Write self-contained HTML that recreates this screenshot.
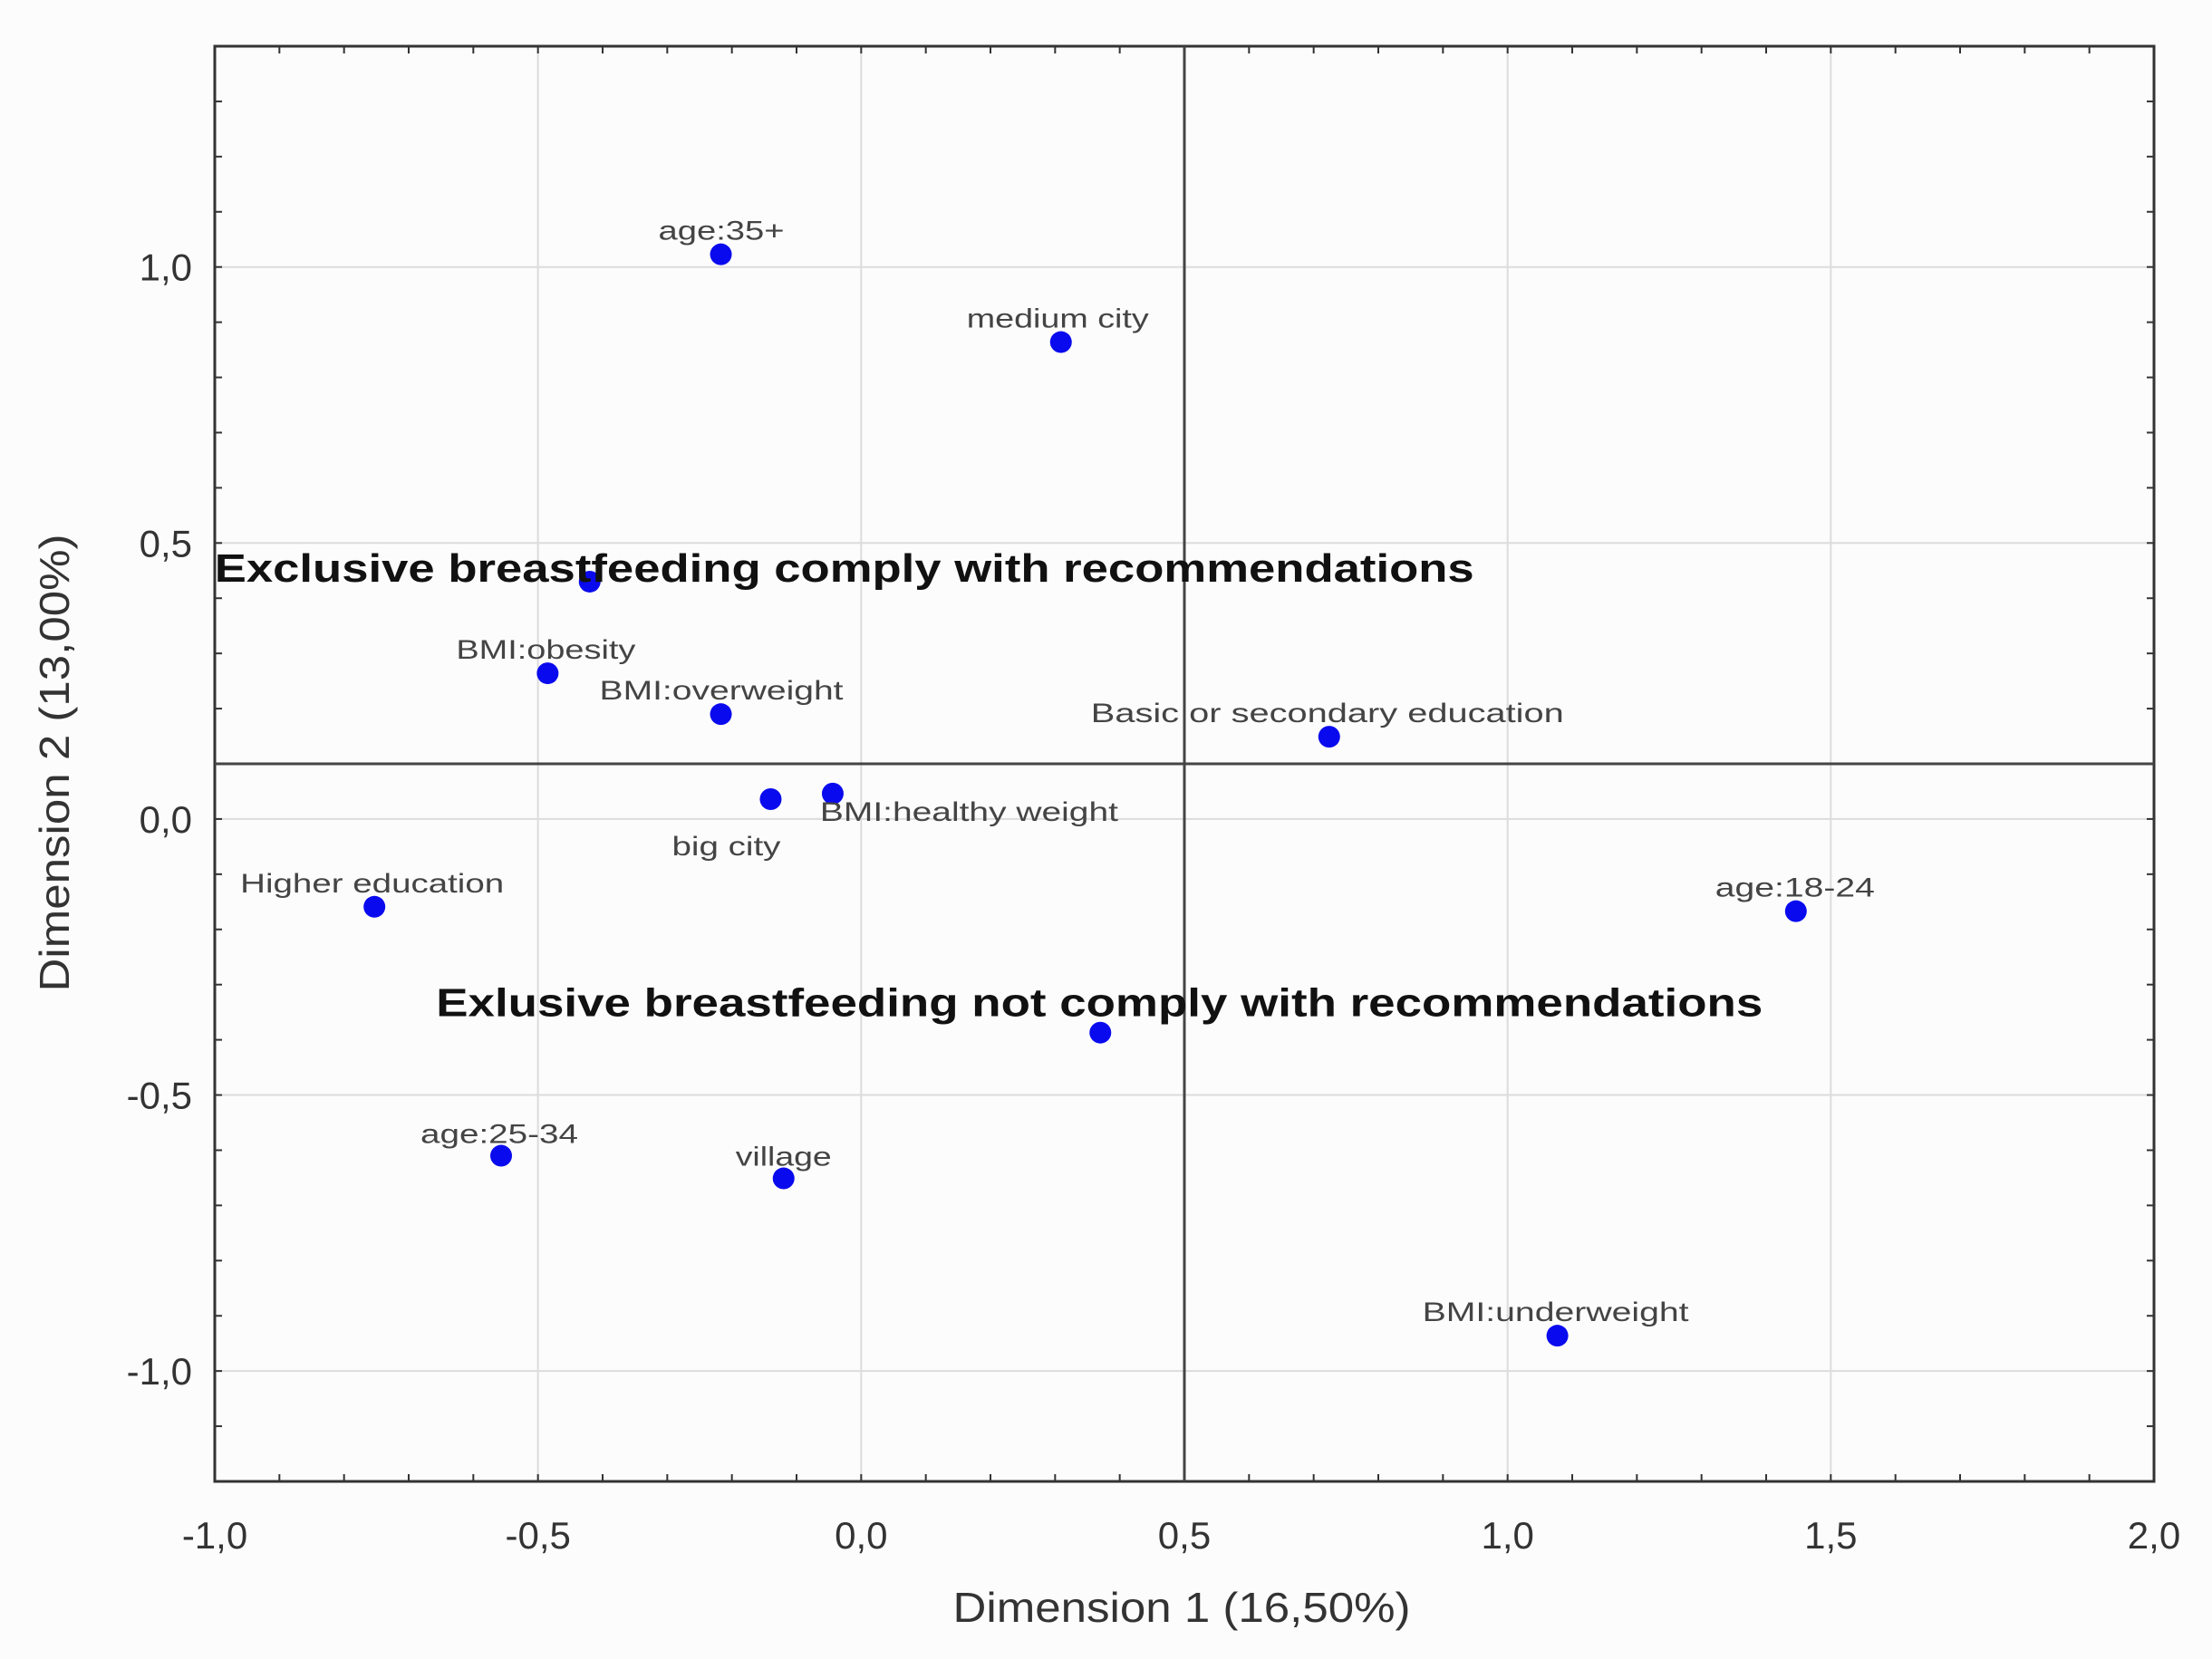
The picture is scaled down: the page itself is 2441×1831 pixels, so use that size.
<!DOCTYPE html>
<html><head><meta charset="utf-8">
<style>
html,body{margin:0;padding:0;background:#fff;}
svg{display:block;font-family:"Liberation Sans",Arial,sans-serif;}
</style></head>
<body>
<svg id="chart" width="2441" height="1831" viewBox="0 0 2441 1831" xmlns="http://www.w3.org/2000/svg">
<rect x="0" y="0" width="2441" height="1831" fill="#fcfcfc"/>
<g id="grid"></g>
<g id="axes"></g>
<g id="marks"></g>
<text x="1304" y="1790" font-size="46" fill="#333" text-anchor="middle" textLength="505" lengthAdjust="spacingAndGlyphs">Dimension 1 (16,50%)</text>
<text transform="translate(76,842) rotate(-90)" font-size="46" fill="#333" text-anchor="middle" textLength="505" lengthAdjust="spacingAndGlyphs">Dimension 2 (13,00%)</text>
</svg>
<script>
const xTicks = [-1.0, -0.5, 0.0, 0.5, 1.0, 1.5, 2.0];
const yTicks = [-1.0, -0.5, 0.0, 0.5, 1.0];
const xTickLabels = ["-1,0","-0,5","0,0","0,5","1,0","1,5","2,0"];
const yTickLabels = ["-1,0","-0,5","0,0","0,5","1,0"];
const pointLabels = ["age:35+","medium city","Exclusive breastfeeding comply with recommendations","BMI:obesity","BMI:overweight","Basic or secondary education","big city","BMI:healthy weight","Higher education","age:18-24","Exlusive breastfeeding not comply with recommendations","age:25-34","village","BMI:underweight"];
const dim1 = [-0.217, 0.309, -0.42, -0.485, -0.217, 0.724, -0.14, -0.044, -0.753, 1.446, 0.37, -0.557, -0.12, 1.077];
const dim2 = [1.023, 0.864, 0.43, 0.264, 0.19, 0.149, 0.036, 0.046, -0.159, -0.167, -0.387, -0.61, -0.651, -0.936];
const refX = 0.5, refY = 0.1;

const L=237, R=2377, T=51, B=1635, XMIN=-1, XMAX=2, YMIN=-1.2, YMAX=1.4;
const sx = v => L + (v - XMIN) * (R - L) / (XMAX - XMIN);
const sy = v => T + (YMAX - v) * (B - T) / (YMAX - YMIN);
const NS = "http://www.w3.org/2000/svg";
function mk(tag, attrs, parent){const e=document.createElementNS(NS,tag);for(const k in attrs)e.setAttribute(k,attrs[k]);parent.appendChild(e);return e;}
const grid=document.getElementById('grid'), axes=document.getElementById('axes'), marks=document.getElementById('marks');

xTicks.forEach((v,i)=>{
  const g=mk('line',{x1:sx(v),x2:sx(v),y1:T,y2:B,stroke:'#dcdcdc','stroke-width':2},grid);
  
  
  const t=mk('text',{x:sx(v),y:B+74,'font-size':42,fill:'#333','text-anchor':'middle'},axes);
  t.textContent=xTickLabels[i];
  
  
});
yTicks.forEach((v,i)=>{
  const g=mk('line',{x1:L,x2:R,y1:sy(v),y2:sy(v),stroke:'#dcdcdc','stroke-width':2},grid);
  
  
  const t=mk('text',{x:L-25,y:sy(v)+15,'font-size':42,fill:'#333','text-anchor':'end'},axes);
  t.textContent=yTickLabels[i];
  
  
});
for(let v=XMIN; v<=XMAX+1e-9; v+=0.1){
  const m=mk('line',{x1:sx(v),x2:sx(v),y1:B,y2:B-8,stroke:'#333','stroke-width':2},axes);
  
  
  const m2=mk('line',{x1:sx(v),x2:sx(v),y1:T,y2:T+8,stroke:'#333','stroke-width':2},axes);
  
  
}
for(let v=-1.2; v<=1.4+1e-9; v+=0.1){
  const m=mk('line',{x1:L,x2:L+8,y1:sy(v),y2:sy(v),stroke:'#333','stroke-width':2},axes);
  
  
  const m2=mk('line',{x1:R,x2:R-8,y1:sy(v),y2:sy(v),stroke:'#333','stroke-width':2},axes);
  
  
}
const frame=mk('rect',{x:L,y:T,width:R-L,height:B-T,fill:'none',stroke:'#333','stroke-width':3},axes);


const rx=mk('line',{x1:sx(refX),x2:sx(refX),y1:T,y2:B,stroke:'#444','stroke-width':3},axes);


const ry=mk('line',{x1:L,x2:R,y1:sy(refY),y2:sy(refY),stroke:'#444','stroke-width':3},axes);



// label layout: [x offset, y offset, textLength, size, weight] (px)
const layout = [
  [-69,-16,139,30,'normal'],
  [-104,-16,201,30,'normal'],
  [-414,0,1390,44,'bold'],
  [-101,-16,198,30,'normal'],
  [-134,-16,269,30,'normal'],
  [-263,-16,522,30,'normal'],
  [-109,62,120,30,'normal'],
  [-14,30,329,30,'normal'],
  [-148,-16,291,30,'normal'],
  [-89,-16,176,30,'normal'],
  [-733,-18,1464,44,'bold'],
  [-89,-14,174,30,'normal'],
  [-53,-14,106,30,'normal'],
  [-149,-16,294,30,'normal']
];
dim1.forEach((v,i)=>{
  const cx=sx(v), cy=sy(dim2[i]);
  const lo=layout[i];
  const c=mk('circle',{cx:cx,cy:cy,r:12,fill:'#0a0aee'},marks);
  
  
  const t=mk('text',{x:cx+lo[0],y:cy+lo[1],'font-size':lo[3],'font-weight':lo[4],fill:lo[4]==='bold'?'#111':'#444','text-anchor':'start',textLength:lo[2],lengthAdjust:'spacingAndGlyphs'},marks);
  t.textContent=pointLabels[i];
  
  
});
</script>
</body></html>
